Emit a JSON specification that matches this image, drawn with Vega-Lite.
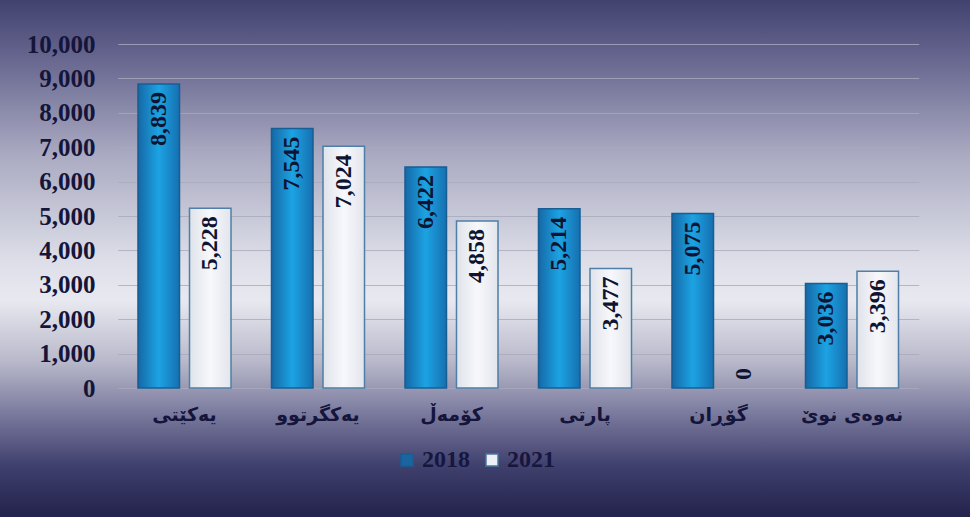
{
  "$schema": "https://vega.github.io/schema/vega-lite/v6.json",
  "width": 970,
  "height": 517,
  "padding": 0,
  "autosize": {"type": "none"},
  "background": "#3a3a6a",
  "config": {
    "view": {
      "stroke": null,
      "fill": {
        "gradient": "linear", "x1": 0, "y1": 0, "x2": 0, "y2": 1,
        "stops": [
          {"offset": 0, "color": "#42426f"},
          {"offset": 0.1, "color": "#62628c"},
          {"offset": 0.3, "color": "#aaaac2"},
          {"offset": 0.5, "color": "#dcdde7"},
          {"offset": 0.58, "color": "#e8e9f0"},
          {"offset": 0.7, "color": "#b8b8ca"},
          {"offset": 0.8, "color": "#7a7a9e"},
          {"offset": 0.9, "color": "#40406e"},
          {"offset": 1, "color": "#22224c"}
        ]
      }
    }
  },
  "data": {
    "values": [
      {"party": "یەکێتی", "year": "2018", "v": 8839},
      {"party": "یەکێتی", "year": "2021", "v": 5228},
      {"party": "یەکگرتوو", "year": "2018", "v": 7545},
      {"party": "یەکگرتوو", "year": "2021", "v": 7024},
      {"party": "کۆمەڵ", "year": "2018", "v": 6422},
      {"party": "کۆمەڵ", "year": "2021", "v": 4858},
      {"party": "پارتی", "year": "2018", "v": 5214},
      {"party": "پارتی", "year": "2021", "v": 3477},
      {"party": "گۆڕان", "year": "2018", "v": 5075},
      {"party": "گۆڕان", "year": "2021", "v": 0},
      {"party": "نەوەی نوێ", "year": "2018", "v": 3036},
      {"party": "نەوەی نوێ", "year": "2021", "v": 3396}
    ]
  },
  "encoding": {
    "x": {
      "field": "party", "type": "nominal", "sort": null,
      "scale": {"range": [117.75, 918.75], "paddingInner": 0, "paddingOuter": 0},
      "axis": {
        "title": null, "orient": "bottom", "offset": -129, "domain": false, "ticks": false, "grid": false,
        "labelAngle": 0, "labelPadding": 17, "labelBaseline": "top",
        "labelFont": "DejaVu Sans", "labelFontWeight": "bold", "labelFontSize": 19, "labelColor": "#15153c"
      }
    },
    "xOffset": {
      "field": "year", "type": "nominal",
      "scale": {"domain": ["2018", "2021"], "paddingInner": 0.194, "paddingOuter": 0.393}
    },
    "y": {
      "field": "v", "type": "quantitative",
      "scale": {"domain": [0, 10000], "range": [388, 44], "nice": false, "zero": true},
      "axis": {
        "title": null, "orient": "left", "offset": -118, "domain": false, "ticks": false,
        "values": [0, 1000, 2000, 3000, 4000, 5000, 6000, 7000, 8000, 9000, 10000],
        "format": ",d", "labelPadding": 23,
        "labelFont": "Liberation Serif", "labelFontWeight": "bold", "labelFontSize": 25, "labelColor": "#15153a",
        "grid": true, "gridColor": "#a9a9bd", "gridWidth": 1, "gridOpacity": 0.8
      }
    }
  },
  "layer": [
    {
      "transform": [{"filter": "datum.v > 0"}],
      "mark": {"type": "square", "size": 4, "strokeWidth": 1.5},
      "encoding": {
        "y": {"datum": 1000},
        "fill": {
          "field": "year", "type": "nominal",
          "scale": {"domain": ["2018", "2021"], "range": ["#1a64a2", "#eef0f5"]},
          "legend": {
            "title": null, "orient": "none", "legendX": 395, "legendY": 448, "direction": "horizontal",
            "symbolType": "square", "symbolSize": 144, "symbolStrokeWidth": 1.5, "symbolOpacity": 1,
            "labelFont": "Liberation Serif", "labelFontWeight": "bold", "labelFontSize": 24, "labelColor": "#16163e",
            "labelOffset": 3, "columnPadding": 10, "padding": 0
          }
        },
        "stroke": {
          "field": "year", "type": "nominal",
          "scale": {"domain": ["2018", "2021"], "range": ["#175e94", "#4a78a0"]},
          "legend": {
            "title": null, "orient": "none", "legendX": 395, "legendY": 448, "direction": "horizontal",
            "symbolType": "square", "symbolSize": 144, "symbolStrokeWidth": 1.5, "symbolOpacity": 1,
            "labelFont": "Liberation Serif", "labelFontWeight": "bold", "labelFontSize": 24, "labelColor": "#16163e",
            "labelOffset": 3, "columnPadding": 10, "padding": 0
          }
        }
      }
    },
    {
      "transform": [{"filter": "datum.year == '2018' && datum.v > 0"}],
      "mark": {
        "type": "bar", "strokeWidth": 1.5, "stroke": "#175e94",
        "fill": {"gradient": "linear", "x1": 0, "y1": 0, "x2": 1, "y2": 0,
          "stops": [
            {"offset": 0, "color": "#1668a6"},
            {"offset": 0.5, "color": "#1ca3e3"},
            {"offset": 1, "color": "#1670b0"}
          ]}
      }
    },
    {
      "transform": [{"filter": "datum.year == '2021' && datum.v > 0"}],
      "mark": {
        "type": "bar", "strokeWidth": 1.5, "stroke": "#4f7fa6",
        "fill": {"gradient": "linear", "x1": 0, "y1": 0, "x2": 1, "y2": 0,
          "stops": [
            {"offset": 0, "color": "#dfe3ea"},
            {"offset": 0.5, "color": "#f7f8fb"},
            {"offset": 1, "color": "#e2e5ec"}
          ]}
      }
    },
    {
      "transform": [{"filter": "datum.v > 0"}],
      "mark": {
        "type": "text", "angle": 270, "align": "right", "baseline": "middle", "dx": -8,
        "font": "Liberation Serif", "fontWeight": "bold", "fontSize": 24, "color": "#0e1432"
      },
      "encoding": {
        "text": {"field": "v", "type": "quantitative", "format": ",d"}
      }
    },
    {
      "transform": [{"filter": "datum.v == 0"}],
      "mark": {
        "type": "text", "angle": 270, "align": "left", "baseline": "middle", "dx": 8,
        "font": "Liberation Serif", "fontWeight": "bold", "fontSize": 24, "color": "#0e1432"
      },
      "encoding": {
        "text": {"field": "v", "type": "quantitative", "format": ",d"}
      }
    }
  ]
}
